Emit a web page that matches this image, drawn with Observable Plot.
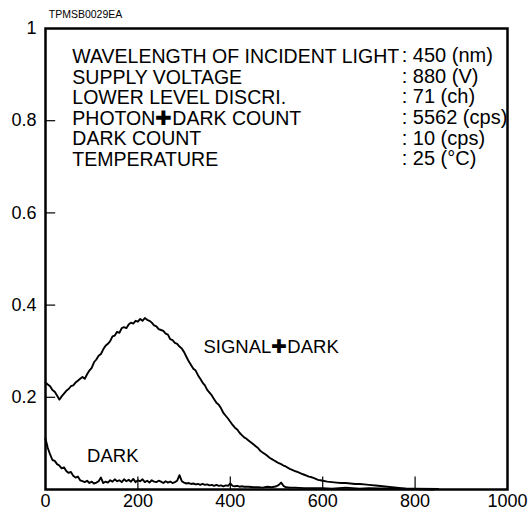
<!DOCTYPE html>
<html>
<head>
<meta charset="utf-8">
<script src="https://cdn.jsdelivr.net/npm/d3@7"></script>
<script src="https://cdn.jsdelivr.net/npm/@observablehq/plot@0.6"></script>
<style>
  html, body { margin: 0; padding: 0; background: white; }
</style>
</head>
<body>
<div id="chart"></div>
<script>
const xTicks = [0, 200, 400, 600, 800, 1000];
const yTicks = [0.2, 0.4, 0.6, 0.8, 1];

const signalX = [0,5,10,15,20,25,30,35,40,45,50,55,60,65,70,75,80,85,90,95,100,105,110,115,120,125,130,135,140,145,150,155,160,165,170,175,180,185,190,195,200,205,210,215,220,225,230,235,240,245,250,255,260,265,270,275,280,285,290,295,300,305,310,315,320,325,330,335,340,345,350,355,360,365,370,375,380,385,390,395,400,405,410,415,420,425,430,435,440,445,450,455,460,465,470,475,480,485,490,495,500,505,510,515,520,525,530,535,540,545,550,555,560,565,570,575,580,585,590,595,600,610,620,630,640,650,660,670,680,690,700,720,740,760,780,800,840];
const signalY = [0.232,0.228,0.224,0.216,0.212,0.204,0.195,0.202,0.208,0.214,0.218,0.224,0.226,0.232,0.236,0.240,0.244,0.240,0.250,0.258,0.264,0.276,0.282,0.290,0.294,0.304,0.312,0.316,0.322,0.332,0.334,0.342,0.340,0.350,0.352,0.350,0.358,0.362,0.360,0.366,0.364,0.370,0.366,0.372,0.368,0.366,0.362,0.356,0.354,0.348,0.346,0.344,0.338,0.336,0.326,0.324,0.318,0.316,0.310,0.306,0.298,0.288,0.278,0.270,0.262,0.258,0.248,0.240,0.232,0.226,0.216,0.210,0.204,0.196,0.188,0.184,0.176,0.166,0.160,0.154,0.147,0.140,0.134,0.130,0.123,0.118,0.113,0.110,0.106,0.102,0.098,0.094,0.090,0.084,0.080,0.077,0.073,0.069,0.066,0.063,0.060,0.057,0.055,0.052,0.050,0.047,0.044,0.042,0.040,0.038,0.036,0.034,0.032,0.030,0.028,0.027,0.025,0.023,0.021,0.020,0.019,0.017,0.016,0.015,0.014,0.014,0.013,0.012,0.012,0.011,0.010,0.008,0.006,0.004,0.002,0.001,0.000];

const darkX = [0,5,10,15,20,25,30,35,40,45,50,55,60,65,70,75,80,85,90,95,100,105,110,115,120,125,130,135,140,145,150,155,160,165,170,175,180,185,190,195,200,205,210,215,220,225,230,235,240,245,250,255,260,265,270,275,280,285,290,295,300,305,310,315,320,325,330,335,340,345,350,355,360,365,370,375,380,385,390,395,400,405,410,415,420,425,430,440,450,460,470,480,490,500,505,510,515,520,530,540,560,580,600,620,650,680,700,750,800,850];
const darkY = [0.110,0.090,0.076,0.064,0.062,0.055,0.052,0.046,0.048,0.040,0.036,0.038,0.030,0.026,0.028,0.020,0.018,0.016,0.019,0.014,0.017,0.013,0.015,0.018,0.026,0.014,0.017,0.015,0.020,0.017,0.022,0.018,0.020,0.016,0.022,0.018,0.021,0.017,0.023,0.016,0.020,0.018,0.022,0.016,0.019,0.015,0.020,0.017,0.016,0.019,0.017,0.014,0.018,0.015,0.017,0.014,0.016,0.019,0.031,0.018,0.015,0.013,0.014,0.012,0.013,0.011,0.012,0.010,0.012,0.010,0.011,0.009,0.010,0.008,0.010,0.008,0.009,0.007,0.009,0.008,0.013,0.008,0.007,0.008,0.006,0.007,0.006,0.006,0.005,0.005,0.004,0.006,0.005,0.007,0.010,0.015,0.008,0.005,0.004,0.004,0.003,0.003,0.003,0.002,0.004,0.002,0.003,0.002,0.002,0.001];

const infoLabels = ["WAVELENGTH OF INCIDENT LIGHT", "SUPPLY VOLTAGE", "LOWER LEVEL DISCRI.", "PHOTON\u271ADARK COUNT", "DARK COUNT", "TEMPERATURE"];
const infoValues = [": 450 (nm)", ": 880 (V)", ": 71 (ch)", ": 5562 (cps)", ": 10 (cps)", ": 25 (\u00B0C)"];

const signal = signalX.map((x, i) => ({x, y: signalY[i]}));
const dark = darkX.map((x, i) => ({x, y: darkY[i]}));

const chart = Plot.plot({
  width: 531,
  height: 514,
  marginLeft: 45,
  marginRight: 24,
  marginTop: 28,
  marginBottom: 25,
  x: {domain: [0, 1000], label: null},
  y: {domain: [0, 1], label: null},
  style: {fontFamily: "'Liberation Sans', Arial, sans-serif", fontSize: "18px", background: "white", color: "black"},
  marks: [
    Plot.axisX({ticks: xTicks, tickSize: 0, tickPadding: 5, fontSize: 18, tickFormat: d => String(d)}),
    Plot.axisY({ticks: yTicks, tickSize: 0, tickPadding: 9, fontSize: 18, tickFormat: d => String(d)}),
    Plot.ruleY(yTicks.slice(0, 4), {x1: 0, x2: 22, stroke: "black", strokeWidth: 1.2}),
    Plot.ruleX(xTicks.slice(1, 5), {y1: 0, y2: 0.027, stroke: "black", strokeWidth: 1.2}),
    Plot.line(signal, {x: "x", y: "y", stroke: "black", strokeWidth: 1.9}),
    Plot.line(dark, {x: "x", y: "y", stroke: "black", strokeWidth: 1.9}),
    Plot.frame({stroke: "black", strokeWidth: 2.5}),
    Plot.text(infoLabels, {x: 58, y: (d, i) => 0.939 - i * 0.0448, text: d => d, textAnchor: "start", fontSize: 19.5, fill: "black"}),
    Plot.text(infoValues, {x: 771, y: (d, i) => 0.941 - i * 0.0448, text: d => d, textAnchor: "start", fontSize: 20, fill: "black"}),
    Plot.text(["SIGNAL\u271ADARK"], {x: 342, y: 0.309, text: d => d, textAnchor: "start", fontSize: 18.5, fill: "black"}),
    Plot.text(["DARK"], {x: 90, y: 0.072, text: d => d, textAnchor: "start", fontSize: 18.5, fill: "black"}),
    Plot.text(["TPMSB0029EA"], {x: 7, y: 1.03, text: d => d, textAnchor: "start", fontSize: 10.5, fill: "black"})
  ]
});
document.getElementById("chart").appendChild(chart);
</script>
</body>
</html>
